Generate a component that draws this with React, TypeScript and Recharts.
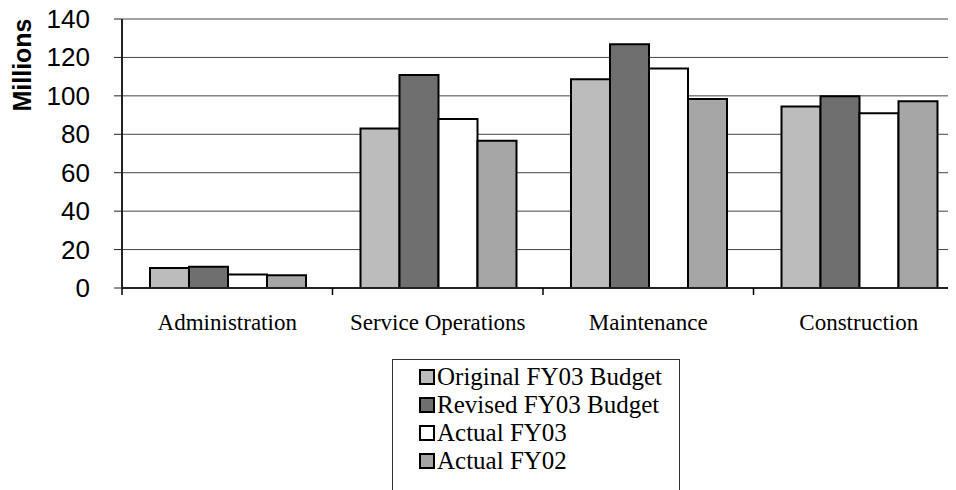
import { BarChart, Bar, XAxis, YAxis, CartesianGrid, Legend, Label } from 'recharts';

const categories = ['Administration', 'Service Operations', 'Maintenance', 'Construction'];
const originalFY03 = [10.4, 83.0, 108.7, 94.4];
const revisedFY03 = [11.0, 110.9, 126.9, 99.8];
const actualFY03 = [7.0, 88.0, 114.2, 91.0];
const actualFY02 = [6.6, 76.7, 98.4, 97.2];
const yTicks = [0, 20, 40, 60, 80, 100, 120, 140];

const SERIES = [
  { key: 'orig', name: 'Original FY03 Budget', color: '#bcbcbc' },
  { key: 'rev', name: 'Revised FY03 Budget', color: '#6f6f6f' },
  { key: 'act03', name: 'Actual FY03', color: '#ffffff' },
  { key: 'act02', name: 'Actual FY02', color: '#a6a6a6' },
];

const data = categories.map((name, i) => ({
  name,
  orig: originalFY03[i],
  rev: revisedFY03[i],
  act03: actualFY03[i],
  act02: actualFY02[i],
}));

const CategoryTick = (props: any) => {
  const { x, y, payload } = props;
  const half = payload.offset || 0;
  return (
    <g>
      <line x1={x - half} y1={y} x2={x - half} y2={y + 7} stroke="#000" strokeWidth={1.5} />
      <text x={x} y={y + 42} textAnchor="middle" fontFamily="'Liberation Serif', 'Times New Roman', serif" fontSize={23} fill="#000">
        {payload.value}
      </text>
    </g>
  );
};

const ValueTick = (props: any) => {
  const { x, y, payload } = props;
  return (
    <text
      x={x - 22}
      y={y}
      textAnchor="end"
      dominantBaseline="central"
      fontFamily="'Liberation Sans', Arial, sans-serif"
      fontSize={26}
      fill="#000"
    >
      {payload.value}
    </text>
  );
};

const LegendBox = () => (
  <div
    style={{
      border: '1px solid #333',
      borderBottom: 'none',
      width: 288,
      height: 140,
      boxSizing: 'border-box',
      padding: '3px 0 0 26px',
      fontFamily: "'Liberation Serif', 'Times New Roman', serif",
      fontSize: 25,
      color: '#000',
      background: '#fff',
    }}
  >
    {SERIES.map((s) => (
      <div key={s.key} style={{ display: 'flex', alignItems: 'center', height: 28 }}>
        <span
          style={{
            display: 'inline-block',
            width: 12,
            height: 12,
            background: s.color,
            border: '2px solid #000',
            marginRight: 2,
          }}
        />
        <span>{s.name}</span>
      </div>
    ))}
  </div>
);

// the chart is shifted up by 8px so the top tick label is not clipped by the svg edge
export default function App() {
  return (
    <div style={{ width: 948, height: 490, marginTop: -8, overflow: 'hidden', position: 'relative' }}>
      <BarChart
        width={960}
        height={498}
        data={data}
        margin={{ top: 19, right: 4, left: 0, bottom: 0 }}
        barCategoryGap="13.3%"
        barGap={0}
      >
        <CartesianGrid horizontal vertical={false} stroke="#444" strokeWidth={1} />
        <XAxis
          dataKey="name"
          height={210}
          axisLine={{ stroke: '#222', strokeWidth: 2 }}
          tickLine={false}
          tickSize={0}
          tickMargin={0}
          interval={0}
          tick={<CategoryTick />}
        />
        <YAxis
          width={114}
          domain={[0, 140]}
          ticks={yTicks}
          interval={0}
          axisLine={{ stroke: '#222', strokeWidth: 2 }}
          tickLine={{ stroke: '#222' }}
          tickSize={8}
          tick={<ValueTick />}
        >
          <Label
            content={() => (
              <text
                transform="translate(14, 65) rotate(-90)"
                textAnchor="middle"
                dominantBaseline="central"
                fontFamily="'Liberation Sans', Arial, sans-serif"
                fontWeight="bold"
                fontSize={25}
                fill="#000"
              >
                Millions
              </text>
            )}
          />
        </YAxis>
        <Legend
          layout="horizontal"
          verticalAlign="middle"
          align="center"
          wrapperStyle={{ position: 'absolute', left: 384, top: 359, width: 290 }}
          content={() => <LegendBox />}
        />
        {SERIES.map((s) => (
          <Bar
            key={s.key}
            dataKey={s.key}
            name={s.name}
            fill={s.color}
            stroke="#000"
            strokeWidth={2}
            isAnimationActive={false}
          />
        ))}
      </BarChart>
    </div>
  );
}
